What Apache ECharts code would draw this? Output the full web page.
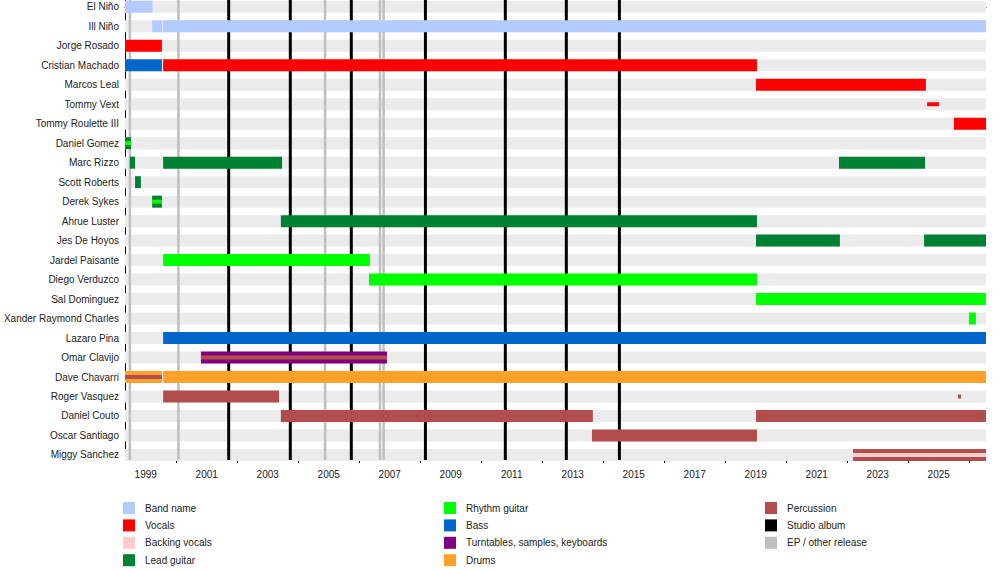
<!DOCTYPE html>
<html>
<head>
<meta charset="utf-8">
<title>Ill Niño members timeline</title>
<script src="https://cdn.jsdelivr.net/npm/echarts@6/dist/echarts.min.js"></script>
<style>
    html, body { margin: 0; padding: 0; background: #fff; }
    #timeline { width: 1000px; height: 570px; }
</style>
</head>
<body>
<div id="timeline"></div>
<script>
const members = [
    'El Niño', 'Ill Niño', 'Jorge Rosado', 'Cristian Machado', 'Marcos Leal', 'Tommy Vext',
    'Tommy Roulette III', 'Daniel Gomez', 'Marc Rizzo', 'Scott Roberts', 'Derek Sykes', 'Ahrue Luster',
    'Jes De Hoyos', 'Jardel Paisante', 'Diego Verduzco', 'Sal Dominguez', 'Xander Raymond Charles',
    'Lazaro Pina', 'Omar Clavijo', 'Dave Chavarri', 'Roger Vasquez', 'Daniel Couto', 'Oscar Santiago',
    'Miggy Sanchez'
];

const roles = [
    'Band name', 'Vocals', 'Backing vocals', 'Lead guitar', 'Rhythm guitar', 'Bass',
    'Turntables, samples, keyboards', 'Drums', 'Percussion'
];

// timeline range, in decimal years
const timelineStart = 1998.32;
const timelineEnd = 2026.55;

// [member, from, to, role, second role (drawn as a stripe)]
const tenures = [
    ['El Niño', timelineStart, 1999.22, 'Band name'],
    ['Ill Niño', 1999.21, 1999.54, 'Band name'],
    ['Ill Niño', 1999.57, timelineEnd, 'Band name'],
    ['Jorge Rosado', timelineStart, 1999.53, 'Vocals'],
    ['Cristian Machado', timelineStart, 1999.53, 'Bass'],
    ['Cristian Machado', 1999.57, 2019.04, 'Vocals'],
    ['Marcos Leal', 2019.01, 2024.58, 'Vocals'],
    ['Tommy Roulette III', 2025.50, timelineEnd, 'Vocals'],
    ['Daniel Gomez', timelineStart, 1998.52, 'Lead guitar', 'Rhythm guitar'],
    ['Marc Rizzo', 1998.48, 1998.65, 'Lead guitar'],
    ['Marc Rizzo', 1999.57, 2003.47, 'Lead guitar'],
    ['Marc Rizzo', 2021.73, 2024.55, 'Lead guitar'],
    ['Scott Roberts', 1998.65, 1998.84, 'Lead guitar'],
    ['Derek Sykes', 1999.21, 1999.53, 'Lead guitar', 'Rhythm guitar'],
    ['Ahrue Luster', 2003.43, 2019.04, 'Lead guitar'],
    ['Jes De Hoyos', 2019.01, 2021.76, 'Lead guitar'],
    ['Jes De Hoyos', 2024.52, timelineEnd, 'Lead guitar'],
    ['Jardel Paisante', 1999.57, 2006.35, 'Rhythm guitar'],
    ['Diego Verduzco', 2006.32, 2019.04, 'Rhythm guitar'],
    ['Sal Dominguez', 2019.01, timelineEnd, 'Rhythm guitar'],
    ['Xander Raymond Charles', 2025.99, 2026.22, 'Rhythm guitar'],
    ['Lazaro Pina', 1999.57, timelineEnd, 'Bass'],
    ['Omar Clavijo', 2000.81, 2006.91, 'Turntables, samples, keyboards', 'Percussion'],
    ['Dave Chavarri', timelineStart, 1999.53, 'Drums', 'Percussion'],
    ['Dave Chavarri', 1999.57, timelineEnd, 'Drums'],
    ['Roger Vasquez', 1999.57, 2003.37, 'Percussion'],
    ['Daniel Couto', 2003.43, 2013.66, 'Percussion'],
    ['Daniel Couto', 2019.01, timelineEnd, 'Percussion'],
    ['Oscar Santiago', 2013.63, 2019.04, 'Percussion'],
    ['Miggy Sanchez', 2022.19, timelineEnd, 'Percussion', 'Backing vocals']
];

// short stints, drawn as thin bars
const briefSpots = [
    ['Tommy Vext', 2024.62, 2025.01, 'Vocals'],
    ['Roger Vasquez', 2025.63, 2025.73, 'Percussion']
];

const studioAlbums = [2001.72, 2003.74, 2005.74, 2008.17, 2010.79, 2012.79, 2014.53];
const otherReleases = [1998.48, 2000.07, 2004.88, 2006.68, 2006.80];

const yearLabels = [1999, 2001, 2003, 2005, 2007, 2009, 2011, 2013, 2015, 2017, 2019, 2021, 2023, 2025];
const minorYears = [2000, 2002, 2004, 2006, 2008, 2010, 2012, 2014, 2016, 2018, 2020, 2022, 2024, 2026];

const roleColors = {
    'Band name': '#b3ccff',
    'Vocals': '#ff0000',
    'Backing vocals': '#ffcccc',
    'Lead guitar': '#008033',
    'Rhythm guitar': '#00ff00',
    'Bass': '#0066cc',
    'Turntables, samples, keyboards': '#800080',
    'Drums': '#ffa129',
    'Percussion': '#b34d4d'
};

const font = 'Liberation Sans, Arial, sans-serif';
const rowMin = -0.35, rowMax = 23.26;

let chart = echarts.init(document.getElementById('timeline'), null, { renderer: 'svg' });

function renderTenure(params, api) {
    const row = api.value(2);
    const a = api.coord([api.value(0), row]);
    const b = api.coord([api.value(1), row]);
    const h = api.value(4) ? 4 : 12;
    const children = [{
        type: 'rect',
        shape: { x: a[0], y: a[1] - h / 2, width: b[0] - a[0], height: h },
        style: { fill: api.visual('color') }
    }];
    const stripe = api.value(3);
    if (stripe >= 0) {
        children.push({
            type: 'rect',
            shape: { x: a[0], y: a[1] - 2, width: b[0] - a[0], height: 4 },
            style: { fill: roleColors[roles[stripe]] }
        });
    }
    return { type: 'group', children: children };
}

function releaseRenderer(width) {
    return function (params, api) {
        const top = api.coord([api.value(0), rowMin]);
        const bottom = api.coord([api.value(0), rowMax]);
        return {
            type: 'line',
            shape: { x1: top[0], y1: top[1], x2: bottom[0], y2: bottom[1] },
            style: { stroke: api.visual('color'), lineWidth: width }
        };
    };
}

let series = [];

// light grey row bands
series.push({
    name: 'rows',
    type: 'custom',
    z: 1,
    silent: true,
    encode: { x: [0, 1], y: 2 },
    data: members.map((m, i) => [timelineStart, timelineEnd, i]),
    renderItem: function (params, api) {
        const a = api.coord([api.value(0), api.value(2)]);
        const b = api.coord([api.value(1), api.value(2)]);
        return {
            type: 'rect',
            shape: { x: a[0], y: a[1] - 6, width: b[0] - a[0], height: 12 },
            style: { fill: '#ebebeb' }
        };
    }
});

series.push({
    name: 'Studio album',
    type: 'custom',
    z: 2,
    itemStyle: { color: '#000000' },
    encode: { x: 0, y: 1 },
    data: studioAlbums.map(t => [t, 0]),
    renderItem: releaseRenderer(3)
});

series.push({
    name: 'EP / other release',
    type: 'custom',
    z: 2,
    itemStyle: { color: '#bfbfbf' },
    encode: { x: 0, y: 1 },
    data: otherReleases.map(t => [t, 0]),
    renderItem: releaseRenderer(2.5)
});

roles.forEach(role => {
    const full = tenures.filter(t => t[3] === role)
        .map(t => [t[1], t[2], members.indexOf(t[0]), t[4] ? roles.indexOf(t[4]) : -1, 0]);
    const thin = briefSpots.filter(t => t[3] === role)
        .map(t => [t[1], t[2], members.indexOf(t[0]), -1, 1]);
    series.push({
        name: role,
        type: 'custom',
        z: 3,
        itemStyle: { color: roleColors[role] },
        encode: { x: [0, 1], y: 2 },
        data: full.concat(thin),
        renderItem: renderTenure
    });
});

const legendBase = {
    orient: 'vertical',
    top: 502,
    padding: 0,
    icon: 'rect',
    itemWidth: 12,
    itemHeight: 12,
    itemGap: 5.4,
    selectedMode: false,
    textStyle: { fontSize: 10, color: '#222', fontFamily: font, padding: [0, 0, 0, 5] }
};

let option = {
    animation: false,
    backgroundColor: '#fff',
    grid: { left: 125, right: 14, top: 0, bottom: 110 },
    legend: [
        Object.assign({ left: 123, data: roles.slice(0, 4) }, legendBase),
        Object.assign({ left: 444, data: roles.slice(4, 8) }, legendBase),
        Object.assign({ left: 765, data: ['Percussion', 'Studio album', 'EP / other release'] }, legendBase)
    ],
    xAxis: [
        {
            type: 'value',
            position: 'bottom',
            min: timelineStart,
            max: timelineEnd,
            splitLine: { show: false },
            axisLine: { lineStyle: { color: '#000', width: 1 } },
            axisTick: { customValues: yearLabels, length: 5, lineStyle: { color: '#000' } },
            axisLabel: {
                customValues: yearLabels,
                formatter: v => String(v),
                fontSize: 10,
                fontFamily: font,
                color: '#222',
                margin: 9
            }
        },
        {
            type: 'value',
            position: 'bottom',
            min: timelineStart,
            max: timelineEnd,
            splitLine: { show: false },
            axisLine: { show: false },
            axisTick: { customValues: minorYears, length: 3, lineStyle: { color: '#000' } },
            axisLabel: { show: false }
        }
    ],
    yAxis: {
        type: 'value',
        inverse: true,
        min: rowMin,
        max: rowMax,
        splitLine: { show: false },
        axisLine: { show: true, lineStyle: { color: '#000', width: 1 } },
        axisTick: { show: false },
        axisLabel: {
            customValues: members.map((m, i) => i),
            formatter: v => members[v],
            fontSize: 10,
            fontFamily: font,
            color: '#222',
            margin: 6
        }
    },
    series: series
};

chart.setOption(option);
</script>
</body>
</html>
